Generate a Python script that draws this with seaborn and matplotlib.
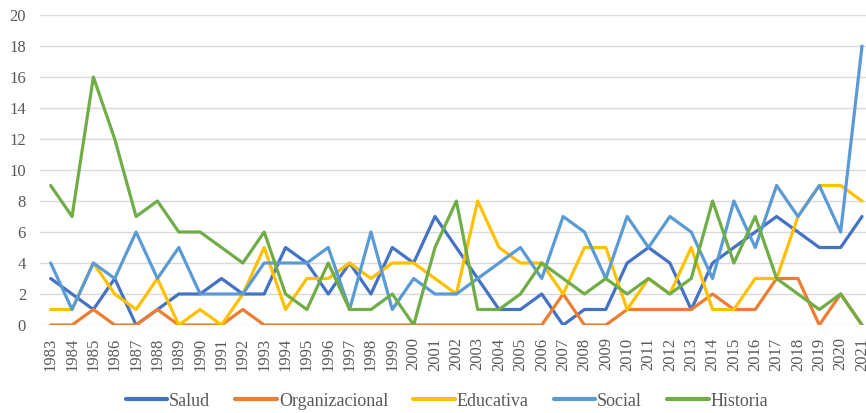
import matplotlib
matplotlib.use("Agg")
import matplotlib.pyplot as plt
import seaborn as sns
import pandas as pd

years = list(range(1983, 2022))
salud = [3, 2, 1, 3, 0, 1, 2, 2, 3, 2, 2, 5, 4, 2, 4, 2, 5, 4, 7, 5, 3, 1, 1, 2, 0, 1, 1, 4, 5, 4, 1, 4, 5, 6, 7, 6, 5, 5, 7]
organizacional = [0, 0, 1, 0, 0, 1, 0, 0, 0, 1, 0, 0, 0, 0, 0, 0, 0, 0, 0, 0, 0, 0, 0, 0, 2, 0, 0, 1, 1, 1, 1, 2, 1, 1, 3, 3, 0, 2, 0]
educativa = [1, 1, 4, 2, 1, 3, 0, 1, 0, 2, 5, 1, 3, 3, 4, 3, 4, 4, 3, 2, 8, 5, 4, 4, 2, 5, 5, 1, 3, 2, 5, 1, 1, 3, 3, 7, 9, 9, 8]
social = [4, 1, 4, 3, 6, 3, 5, 2, 2, 2, 4, 4, 4, 5, 1, 6, 1, 3, 2, 2, 3, 4, 5, 3, 7, 6, 3, 7, 5, 7, 6, 3, 8, 5, 9, 7, 9, 6, 18]
historia = [9, 7, 16, 12, 7, 8, 6, 6, 5, 4, 6, 2, 1, 4, 1, 1, 2, 0, 5, 8, 1, 1, 2, 4, 3, 2, 3, 2, 3, 2, 3, 8, 4, 7, 3, 2, 1, 2, 0]

series_names = ["Salud", "Organizacional", "Educativa", "Social", "Historia"]
colors = ["#4472C4", "#ED7D31", "#FFC000", "#5B9BD5", "#70AD47"]

rows = []
for name, vals in zip(series_names, [salud, organizacional, educativa, social, historia]):
    for y, v in zip(years, vals):
        rows.append({"Año": y, "Valor": v, "Área": name})
df = pd.DataFrame(rows)

sns.set_style("white")
plt.rcParams["font.family"] = ["Liberation Serif", "DejaVu Serif"]

fig = plt.figure(figsize=(8.66, 4.13), dpi=100)
ax = fig.add_axes([40 / 866, 88 / 413, 832.7 / 866, 310 / 413])

sns.lineplot(data=df, x="Año", y="Valor", hue="Área", hue_order=series_names,
             palette=dict(zip(series_names, colors)), linewidth=2.3, ax=ax,
             legend=False, sort=False)

ax.set_xlim(1982.5, 2021.5)
ax.set_ylim(0, 20)
ax.set_yticks(range(0, 21, 2))
ax.set_xticks(years)
ax.set_xticklabels([str(y) for y in years], rotation=90)
ax.set_xlabel("")
ax.set_ylabel("")
ax.grid(axis="y", color="#d9d9d9", linewidth=1)
ax.set_axisbelow(True)
for s in ax.spines.values():
    s.set_visible(False)
ax.tick_params(axis="both", length=0, labelsize=12, colors="#595959")
ax.tick_params(axis="y", pad=10)
ax.tick_params(axis="x", pad=9)

from matplotlib.lines import Line2D
handles = [Line2D([0], [0], color=c, linewidth=3) for c in colors]
fig.legend(handles, series_names, loc="center", bbox_to_anchor=(447 / 866, 1 - 401 / 413),
           ncol=5, frameon=False, fontsize=13, handlelength=2.3, handletextpad=0.1,
           columnspacing=1.4, labelcolor="#595959")

fig.savefig("out.png", dpi=100)
